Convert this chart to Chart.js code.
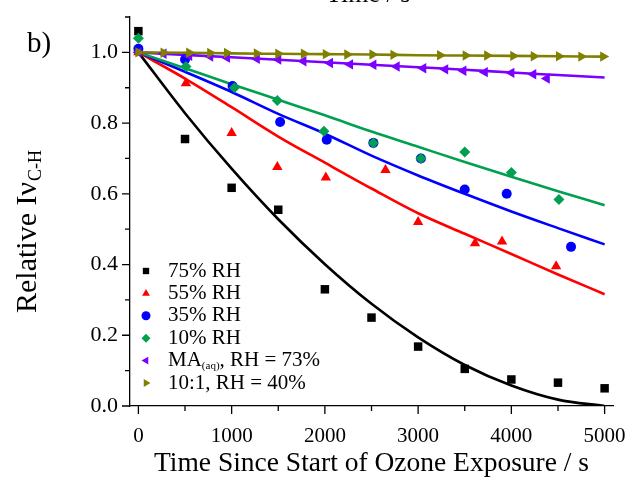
<!DOCTYPE html>
<html lang="en">
<head>
  <meta charset="UTF-8" />
  <title>Relative IνC-H vs ozone exposure time</title>
  <script src="https://cdn.jsdelivr.net/npm/chart.js"></script>
  <style>
    body { margin: 0; background: #fff; }
    .wrap { position: relative; width: 628px; height: 480px; overflow: hidden; }
    .lbl { position: absolute; font-family: "Liberation Serif", "Times New Roman", serif; color: #000; white-space: nowrap; }
  </style>
</head>
<body>
  <div class="wrap">
    <canvas id="grafica" width="628" height="480"></canvas>
    <div class="lbl" style="left:27px; top:28px; font-size:29px; line-height:29px;">b)</div>
    <div class="lbl" style="left:326px; top:-19px; font-size:26px; line-height:26px;">Time / s</div>
  </div>

  <script>
    // ticks
    const xTicks = [0, 1000, 2000, 3000, 4000, 5000];
    const yTicks = [0, 0.2, 0.4, 0.6, 0.8, 1.0];

    // measured points
    const t75 = [0, 500, 1000, 1500, 2000, 2500, 3000, 3500, 4000, 4500, 5000];
    const rh75 = [1.06, 0.755, 0.617, 0.555, 0.33, 0.25, 0.168, 0.105, 0.075, 0.066, 0.05];

    const t55 = [0, 510, 1000, 1490, 2010, 2650, 3000, 3610, 3900, 4480];
    const rh55 = [1.0, 0.913, 0.772, 0.676, 0.646, 0.667, 0.52, 0.46, 0.465, 0.395];

    const t35 = [0, 500, 1010, 1520, 2020, 2520, 3030, 3500, 3950, 4640];
    const rh35 = [1.01, 0.98, 0.905, 0.803, 0.753, 0.744, 0.70, 0.612, 0.60, 0.45];

    const t10 = [0, 510, 1030, 1490, 1990, 2520, 3030, 3500, 4000, 4510];
    const rh10 = [1.04, 0.96, 0.90, 0.864, 0.777, 0.744, 0.70, 0.718, 0.66, 0.584];

    const tMA = [0, 270, 545, 770, 950, 1270, 1500, 1770, 2055, 2270, 2520, 2770, 3055, 3290, 3485, 3715, 4000, 4235, 4380];
    const ma73 = [1.0, 0.996, 0.99, 0.988, 0.985, 0.982, 0.98, 0.975, 0.97, 0.966, 0.965, 0.96, 0.955, 0.952, 0.948, 0.944, 0.942, 0.938, 0.926];

    const tMix = [0, 270, 545, 770, 950, 1270, 1500, 1775, 2010, 2240, 2510, 2735, 3235, 3510, 3740, 4020, 4240, 4510, 4750, 4985];
    const mix40 = [1.0, 0.999, 0.999, 0.998, 0.998, 0.997, 0.996, 0.996, 0.995, 0.994, 0.994, 0.993, 0.992, 0.991, 0.991, 0.99, 0.989, 0.989, 0.988, 0.988];

    // fitted curves
    const tFit = [0, 500, 1000, 1500, 2000, 2500, 3000, 3500, 4000, 4500, 5000];
    const fit75 = [1.0, 0.828, 0.671, 0.528, 0.401, 0.289, 0.194, 0.116, 0.058, 0.018, 0.0];
    const fit55 = [1.0, 0.926, 0.845, 0.762, 0.688, 0.615, 0.545, 0.487, 0.43, 0.372, 0.316];
    const fit35 = [1.0, 0.945, 0.888, 0.826, 0.77, 0.708, 0.652, 0.6, 0.55, 0.503, 0.457];
    const fit10 = [1.0, 0.955, 0.91, 0.866, 0.822, 0.776, 0.733, 0.69, 0.648, 0.607, 0.568];
    const fitMA = [1.0, 0.993, 0.986, 0.979, 0.972, 0.965, 0.958, 0.951, 0.943, 0.936, 0.929];
    const fitMix = [1.0, 0.999, 0.997, 0.996, 0.995, 0.994, 0.992, 0.991, 0.99, 0.989, 0.988];

    const fuente = '"Liberation Serif", "Times New Roman", serif';

    function puntos(xs, ys) {
      return xs.map((x, i) => ({ x: x, y: ys[i] }));
    }

    const series = [
      { nombre: '75% RH', color: '#000000', estilo: 'rect', rot: 0, radio: 6, t: t75, v: rh75, fit: fit75 },
      { nombre: '55% RH', color: '#ff0000', estilo: 'triangle', rot: 0, radio: 6, t: t55, v: rh55, fit: fit55 },
      { nombre: '35% RH', color: '#0000ff', estilo: 'circle', rot: 0, radio: 5, t: t35, v: rh35, fit: fit35 },
      { nombre: '10% RH', color: '#00a050', estilo: 'rectRot', rot: 0, radio: 5.5, t: t10, v: rh10, fit: fit10 },
      { nombre: 'MA', color: '#7b00ff', estilo: 'triangle', rot: -90, radio: 6, t: tMA, v: ma73, fit: fitMA },
      { nombre: '10:1, RH = 40%', color: '#808000', estilo: 'triangle', rot: 90, radio: 6, t: tMix, v: mix40, fit: fitMix }
    ];

    const datasets = [];
    series.forEach((s, i) => {
      datasets.push({
        label: s.nombre + ' fit',
        data: puntos(tFit, s.fit),
        showLine: true,
        borderColor: s.color,
        borderWidth: 2.6,
        pointRadius: 0,
        cubicInterpolationMode: 'monotone',
        order: 20 - i
      });
      datasets.push({
        label: s.nombre,
        data: puntos(s.t, s.v),
        showLine: false,
        backgroundColor: s.color,
        borderColor: s.color,
        borderWidth: 0,
        pointStyle: s.estilo,
        rotation: s.rot,
        pointRadius: s.radio,
        order: 10 - i
      });
    });

    // minor + major tick marks drawn outward
    const marcasEjes = {
      id: 'marcasEjes',
      afterDraw(chart) {
        const { ctx, scales: { x, y } } = chart;
        ctx.save();
        ctx.strokeStyle = '#000';
        ctx.lineWidth = 1.3;
        ctx.beginPath();
        for (let v = 0; v <= 5000; v += 500) {
          const px = x.getPixelForValue(v);
          const len = v % 1000 === 0 ? 8 : 5;
          ctx.moveTo(px, y.bottom);
          ctx.lineTo(px, y.bottom + len);
        }
        for (let i = 0; i <= 11; i++) {
          const py = y.getPixelForValue(i / 10);
          const len = i % 2 === 0 ? 8 : 5;
          ctx.moveTo(x.left, py);
          ctx.lineTo(x.left - len, py);
        }
        ctx.stroke();
        ctx.restore();
      }
    };

    // y title with subscript
    const tituloY = {
      id: 'tituloY',
      afterDraw(chart) {
        const ctx = chart.ctx;
        const fGrande = '30px ' + fuente;
        const fChica = '18px ' + fuente;
        ctx.save();
        ctx.fillStyle = '#000';
        ctx.font = fGrande;
        const a = 'Relative I\u03bd';
        const wa = ctx.measureText(a).width;
        ctx.font = fChica;
        const wb = ctx.measureText('C-H').width;
        ctx.translate(36, 232);
        ctx.rotate(-Math.PI / 2);
        ctx.textBaseline = 'alphabetic';
        let x0 = -(wa + wb) / 2;
        ctx.font = fGrande;
        ctx.fillText(a, x0, 0);
        ctx.font = fChica;
        ctx.fillText('C-H', x0 + wa + 1, 5);
        ctx.restore();
      }
    };

    // legend inside plot, lower left
    const leyenda = {
      id: 'leyenda',
      afterDraw(chart) {
        const ctx = chart.ctx;
        const x0 = 146, xt = 168, y0 = 271, paso = 22.4;
        ctx.save();
        ctx.textBaseline = 'middle';
        series.forEach((s, i) => {
          const yy = y0 + i * paso;
          ctx.fillStyle = s.color;
          ctx.strokeStyle = s.color;
          Chart.helpers.drawPoint(ctx, { pointStyle: s.estilo, rotation: s.rot, radius: 4.5, borderWidth: 0 }, x0, yy);
          ctx.fillStyle = '#000';
          ctx.font = '21px ' + fuente;
          if (s.nombre === 'MA') {
            ctx.fillText('MA', xt, yy);
            let w = ctx.measureText('MA').width;
            ctx.font = '11px ' + fuente;
            ctx.fillText('(aq)', xt + w, yy + 6);
            w += ctx.measureText('(aq)').width;
            ctx.font = '21px ' + fuente;
            ctx.fillText(', RH = 73%', xt + w, yy);
          } else {
            ctx.fillText(s.nombre, xt, yy);
          }
        });
        ctx.restore();
      }
    };

    new Chart(document.getElementById('grafica'), {
      type: 'scatter',
      data: { datasets: datasets },
      options: {
        responsive: false,
        animation: false,
        devicePixelRatio: 1,
        layout: { padding: { left: 0, right: 15, top: 17, bottom: 0 } },
        plugins: { legend: { display: false }, tooltip: { enabled: false } },
        elements: { point: { hoverRadius: 0 } },
        scales: {
          x: {
            type: 'linear',
            min: -90,
            max: 5090,
            afterFit: s => { s.height = 74; s.paddingLeft = 0; s.paddingRight = 0; },
            afterBuildTicks: s => { s.ticks = xTicks.map(v => ({ value: v })); },
            border: { color: '#000', width: 1.3 },
            grid: { drawOnChartArea: false, drawTicks: false },
            ticks: { color: '#000', padding: 18, maxRotation: 0, font: { family: fuente, size: 21 }, callback: v => String(v) },
            title: {
              display: true,
              text: 'Time Since Start of Ozone Exposure / s',
              color: '#000',
              font: { family: fuente, size: 27.5 },
              padding: { top: 0, bottom: 0 }
            }
          },
          y: {
            type: 'linear',
            min: 0,
            max: 1.1,
            afterFit: s => { s.width = 130; s.paddingTop = 0; s.paddingBottom = 0; },
            afterBuildTicks: s => { s.ticks = yTicks.map(v => ({ value: v })); },
            border: { color: '#000', width: 1.3 },
            grid: { drawOnChartArea: false, drawTicks: false },
            ticks: { color: '#000', padding: 12, font: { family: fuente, size: 22 }, callback: v => v.toFixed(1) }
          }
        }
      },
      plugins: [marcasEjes, tituloY, leyenda]
    });
  </script>
</body>
</html>
